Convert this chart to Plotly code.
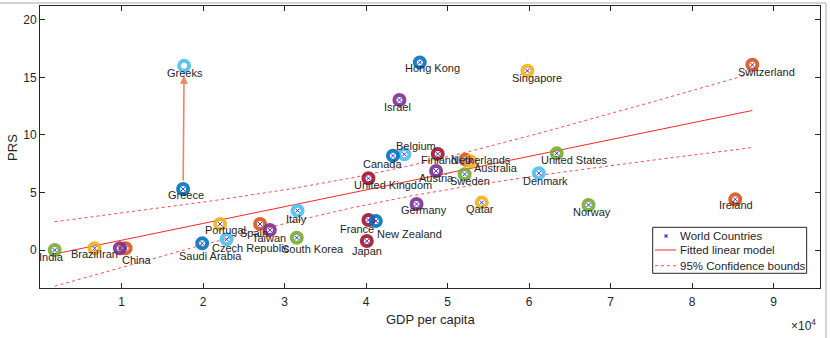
import numpy as np
import plotly.graph_objects as go

# ---------------- data ----------------
countries = ["Greece", "Hong Kong", "Singapore", "Israel", "Switzerland", "Belgium", "Canada",
             "Finland", "Netherlands", "Australia", "Austria", "Sweden", "Denmark", "United States",
             "United Kingdom", "Germany", "Qatar", "Norway", "Ireland", "France", "New Zealand",
             "Japan", "Italy", "South Korea", "Spain", "Taiwan", "Portugal", "Czech Republic",
             "Saudi Arabia", "India", "Brazil", "China", "Iran"]
gdp = [17560, 46600, 59800, 44100, 87400, 44700, 43300,
       48800, 52200, 52800, 48600, 52100, 61200, 63400,
       40300, 46200, 54200, 67300, 85300, 40300, 41200,
       40100, 31600, 31500, 27000, 28200, 22100, 22900,
       19900, 1800, 6700, 10500, 9800]
prs = [5.3, 16.3, 15.57, 13.04, 16.09, 8.32, 8.2,
       8.35, 7.85, 7.72, 6.87, 6.58, 6.68, 8.4,
       6.23, 4.0, 4.12, 3.91, 4.4, 2.61, 2.52,
       0.78, 3.42, 1.07, 2.26, 1.74, 2.26, 0.93,
       0.58, 0.0, 0.15, 0.15, 0.15]
greeks_label = "Greeks"
greeks_gdp = 17680
greeks_prs = 16.0
x_tick_vals = [10000, 20000, 30000, 40000, 50000, 60000, 70000, 80000, 90000]
x_tick_text = ["1", "2", "3", "4", "5", "6", "7", "8", "9"]
y_tick_vals = [0, 5, 10, 15, 20]
legend_labels = ["World Countries", "Fitted linear model", "95% Confidence bounds"]

# ---------------- styles ----------------
C_BLUE, C_ORANGE, C_YELLOW, C_PURPLE = "#0072BD", "#D95319", "#EDB120", "#7E2F8E"
C_GREEN, C_LBLUE, C_RED = "#77AC30", "#4DBEEE", "#A2142F"
ring_colors = [C_BLUE, C_BLUE, C_YELLOW, C_PURPLE, C_ORANGE, C_LBLUE, C_BLUE,
               C_RED, C_ORANGE, C_YELLOW, C_PURPLE, C_GREEN, C_LBLUE, C_GREEN,
               C_RED, C_PURPLE, C_YELLOW, C_GREEN, C_ORANGE, C_RED, C_BLUE,
               C_RED, C_LBLUE, C_GREEN, C_ORANGE, C_PURPLE, C_YELLOW, C_LBLUE,
               C_BLUE, C_GREEN, C_YELLOW, C_ORANGE, C_PURPLE]
# label offsets in pixels (dx right, dy down)
label_offsets = {
    "Greece": (3, 6), "Hong Kong": (13, 6), "Singapore": (10, 7), "Israel": (-2, 7),
    "Switzerland": (14, 7), "Belgium": (12, -8), "Canada": (-10, 8), "Finland": (1, 6),
    "Netherlands": (16, 0), "Australia": (26, 7), "Austria": (0, 7), "Sweden": (5, 7),
    "Denmark": (7, 8), "United States": (18, 7), "United Kingdom": (25, 7), "Germany": (7, 6),
    "Qatar": (-2, 6), "Norway": (3, 7), "Ireland": (1, 6), "France": (-11, 9),
    "New Zealand": (34, 13), "Japan": (0, 10), "Italy": (-1, 8), "South Korea": (16, 11),
    "Spain": (-6, 9), "Taiwan": (-1, 8), "Portugal": (5, 6), "Czech Republic": (24, 9),
    "Saudi Arabia": (8, 13), "India": (-3, 7), "Brazil": (-10, 6), "China": (11, 12),
    "Iran": (-11, 6),
}
FONT = "Liberation Sans, Arial, Helvetica, sans-serif"
TXT = "#262626"
FIT_RED = "rgba(255,0,0,0.85)"
CI_RED = "rgba(255,0,0,0.7)"
X_BLUE = "#3030FF"

# ---------------- linear fit ----------------
gx = np.array(gdp, dtype=float)
gy = np.array(prs, dtype=float)
n = len(gx)
slope, intercept = np.polyfit(gx, gy, 1)
xs = np.linspace(gx.min(), gx.max(), 200)
yhat = intercept + slope * xs
resid = gy - (intercept + slope * gx)
s = np.sqrt(np.sum(resid ** 2) / (n - 2))
xbar = gx.mean()
sxx = np.sum((gx - xbar) ** 2)
t_crit = 2.0395  # t(0.975, 31)
half = t_crit * s * np.sqrt(1.0 / n + (xs - xbar) ** 2 / sxx)

fig = go.Figure()

fig.add_trace(go.Scatter(x=xs, y=yhat + half, mode="lines",
                         line=dict(color=CI_RED, width=1, dash="dot"), hoverinfo="skip"))
fig.add_trace(go.Scatter(x=xs, y=yhat - half, mode="lines",
                         line=dict(color=CI_RED, width=1, dash="dot"), hoverinfo="skip"))
fig.add_trace(go.Scatter(x=xs, y=yhat, mode="lines", line=dict(color=FIT_RED, width=1)))

# rings
fig.add_trace(go.Scatter(x=gdp, y=prs, mode="markers",
                         marker=dict(symbol="circle-open", size=10, color=ring_colors,
                                     line=dict(width=4), opacity=0.9)))
fig.add_trace(go.Scatter(x=[greeks_gdp], y=[greeks_prs], mode="markers",
                         marker=dict(symbol="circle-open", size=10, color=C_LBLUE,
                                     line=dict(width=4), opacity=0.9)))
# inner markers
fig.add_trace(go.Scatter(x=gdp, y=prs, mode="markers",
                         marker=dict(symbol="x-thin-open", size=4, color=X_BLUE,
                                     line=dict(width=1, color=X_BLUE))))

annotations = []
# arrow Greece -> Greeks
annotations.append(dict(x=greeks_gdp, y=greeks_prs, ax=gdp[0], ay=prs[0], xref="x", yref="y",
                        axref="x", ayref="y", text="", showarrow=True, arrowhead=2,
                        arrowsize=1, arrowwidth=1.6, arrowcolor="#F4845F",
                        standoff=10, startstandoff=7))
for name, x, y in zip(countries, gdp, prs):
    dx, dy = label_offsets[name]
    annotations.append(dict(x=x, y=y, xref="x", yref="y", text=name, showarrow=False,
                            xshift=dx, yshift=-dy, font=dict(family=FONT, size=11, color=TXT)))
annotations.append(dict(x=greeks_gdp, y=greeks_prs, xref="x", yref="y", text=greeks_label,
                        showarrow=False, xshift=1, yshift=-7,
                        font=dict(family=FONT, size=11, color=TXT)))
# axis titles
annotations.append(dict(x=0.5, y=-0.11, xref="paper", yref="paper", text="GDP per capita",
                        showarrow=False, yanchor="middle",
                        font=dict(family=FONT, size=13, color=TXT)))
annotations.append(dict(x=-0.036, y=0.5, xref="paper", yref="paper", text="PRS",
                        showarrow=False, textangle=-90, xanchor="center",
                        font=dict(family=FONT, size=13, color=TXT)))
annotations.append(dict(x=0.997, y=-0.131, xref="paper", yref="paper",
                        text="×10<sup>4</sup>", showarrow=False, xanchor="right",
                        yanchor="middle", font=dict(family=FONT, size=12, color=TXT)))

# ---------------- manual legend (paper coords) ----------------
LEG_X0, LEG_X1, LEG_Y0, LEG_Y1 = 0.7855, 0.9829, 0.0521, 0.2152
row_y = [0.1844, 0.1348, 0.0791]
sym_x0, sym_x1, sym_xc, txt_x = 0.7885, 0.8154, 0.8026, 0.8179

shapes = [
    # outer light frame
    dict(type="line", xref="paper", yref="paper", x0=-0.06, x1=1.0077, y0=1.0106, y1=1.0106,
         line=dict(color="#d4d4d4", width=2)),
    dict(type="line", xref="paper", yref="paper", x0=1.0077, x1=1.0077, y0=-0.2, y1=1.0106,
         line=dict(color="#d4d4d4", width=2)),
    # legend box
    dict(type="rect", xref="paper", yref="paper", x0=LEG_X0, x1=LEG_X1, y0=LEG_Y0, y1=LEG_Y1,
         line=dict(color=TXT, width=1), fillcolor="white", layer="above"),
    # legend marker (small x)
    dict(type="line", xref="paper", yref="paper", xsizemode="pixel", ysizemode="pixel",
         xanchor=sym_xc, yanchor=row_y[0], x0=-1.5, x1=1.5, y0=-1.5, y1=1.5,
         line=dict(color=X_BLUE, width=1.2), layer="above"),
    dict(type="line", xref="paper", yref="paper", xsizemode="pixel", ysizemode="pixel",
         xanchor=sym_xc, yanchor=row_y[0], x0=-1.5, x1=1.5, y0=1.5, y1=-1.5,
         line=dict(color=X_BLUE, width=1.2), layer="above"),
    # legend lines
    dict(type="line", xref="paper", yref="paper", x0=sym_x0, x1=sym_x1, y0=row_y[1], y1=row_y[1],
         line=dict(color=FIT_RED, width=1), layer="above"),
    dict(type="line", xref="paper", yref="paper", x0=sym_x0, x1=sym_x1, y0=row_y[2], y1=row_y[2],
         line=dict(color=CI_RED, width=1, dash="dot"), layer="above"),
]
for lab, ry in zip(legend_labels, row_y):
    annotations.append(dict(x=txt_x, y=ry, xref="paper", yref="paper", text=lab,
                            showarrow=False, xanchor="left", yanchor="middle",
                            font=dict(family=FONT, size=11.5, color=TXT)))

axis_common = dict(showgrid=False, zeroline=False, showline=True, linecolor=TXT, linewidth=1,
                   mirror="allticks", ticks="inside", ticklen=5, tickcolor=TXT, tickwidth=1,
                   tickfont=dict(family=FONT, size=12, color=TXT))

fig.update_layout(
    width=830, height=338,
    margin=dict(l=40, r=10, t=6, b=50),
    paper_bgcolor="white", plot_bgcolor="white",
    xaxis=dict(range=[0, 95700], tickvals=x_tick_vals, ticktext=x_tick_text,
               ticklabelstandoff=3, **axis_common),
    yaxis=dict(range=[-3.3, 21.2], tickvals=y_tick_vals, **axis_common),
    annotations=annotations,
    shapes=shapes,
    showlegend=False,
)

fig.write_html("out.html")
